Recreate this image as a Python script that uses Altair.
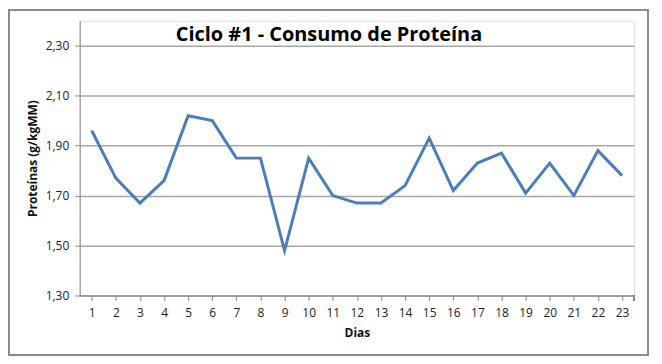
import altair as alt
import pandas as pd

dias = list(range(1, 24))
proteinas = [1.96, 1.77, 1.67, 1.76, 2.02, 2.00, 1.85, 1.85, 1.48, 1.85, 1.70, 1.67,
             1.67, 1.74, 1.93, 1.72, 1.83, 1.87, 1.71, 1.83, 1.70, 1.88, 1.78]
y_ticks = [1.30, 1.50, 1.70, 1.90, 2.10, 2.30]

df = pd.DataFrame({"Dia": dias, "Proteina": proteinas})

FONT = "Open Sans"

line = alt.Chart(df).mark_line(color="#4a7ebb", strokeWidth=3).encode(
    x=alt.X("Dia:O", title="Dias",
            scale=alt.Scale(paddingInner=0, paddingOuter=0),
            axis=alt.Axis(labelAngle=0, bandPosition=0, tickSize=5,
                          tickColor="#888888", domainColor="#888888",
                          labelFontSize=12, labelColor="#222222", labelFont=FONT,
                          labelPadding=7, titleFont=FONT, titleFontSize=12,
                          titleFontWeight="bold", titleColor="#111111",
                          titlePadding=9, grid=False)),
    y=alt.Y("Proteina:Q", title="Proteínas (g/kgMM)",
            scale=alt.Scale(domain=[1.3, 2.4], nice=False, zero=False),
            axis=alt.Axis(values=y_ticks,
                          labelExpr="replace(format(datum.value, '.2f'), '.', ',')",
                          tickSize=5, tickColor="#888888", domainColor="#888888",
                          gridColor="#a6a6a6", gridWidth=1.5,
                          labelFontSize=12, labelColor="#222222", labelFont=FONT,
                          labelPadding=6, titleFont=FONT, titleFontSize=12,
                          titleFontWeight="bold", titleColor="#111111",
                          titlePadding=6)),
)

end_tick = alt.Chart(df).mark_rule(color="#888888", strokeWidth=1, clip=False).encode(
    x=alt.value(557), y=alt.value(276), y2=alt.value(281)
)

border = alt.Chart(df).mark_rect(fill=None, stroke="#8c8c8c", strokeWidth=1.5, clip=False).encode(
    x=alt.value(-71), x2=alt.value(571), y=alt.value(-11), y2=alt.value(336)
)

chart = alt.layer(line, end_tick, border).properties(
    width=557, height=276,
    padding={"left": 72, "top": 12, "right": 20, "bottom": 66},
    autosize=alt.AutoSizeParams(type="none"),
    title=alt.TitleParams("Ciclo #1 - Consumo de Proteína", font=FONT, fontSize=20,
                          fontWeight="bold", color="#000000", anchor="middle",
                          dx=-28, offset=-36),
).configure_view(stroke=None).configure(background="white")

chart.save("out.html", embed_options={"renderer": "svg", "actions": False})
